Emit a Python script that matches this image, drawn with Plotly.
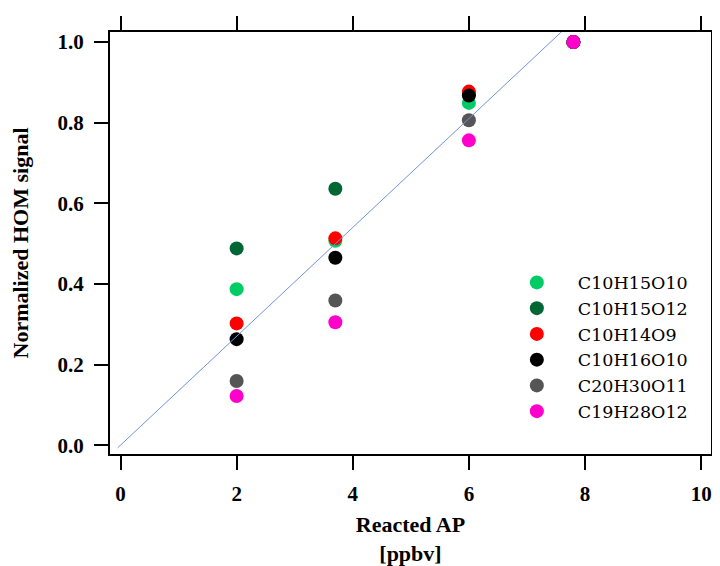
import plotly.graph_objects as go

# Data
reacted_ap = [2.0, 3.7, 6.0, 7.8]
series_names = ["C10H15O10", "C10H15O12", "C10H14O9", "C10H16O10", "C20H30O11", "C19H28O12"]
c10h15o10 = [0.387, 0.507, 0.849, 1.0]
c10h15o12 = [0.488, 0.636, 0.870, 1.0]
c10h14o9 = [0.302, 0.513, 0.877, 1.0]
c10h16o10 = [0.263, 0.465, 0.867, 1.0]
c20h30o11 = [0.159, 0.359, 0.806, 1.0]
c19h28o12 = [0.122, 0.305, 0.756, 1.0]
series_values = [c10h15o10, c10h15o12, c10h14o9, c10h16o10, c20h30o11, c19h28o12]
series_colors = ["#00cc66", "#006633", "#ff0000", "#000000", "#555555", "#ff00cc"]

fit_slope = 0.135
fit_x = [-0.05, 8.0]

x_ticks = [0, 2, 4, 6, 8, 10]
y_ticks = [0.0, 0.2, 0.4, 0.6, 0.8, 1.0]
y_ticklabels = ["0.0", "0.2", "0.4", "0.6", "0.8", "1.0"]

fig = go.Figure()
for name, vals, col in zip(series_names, series_values, series_colors):
    fig.add_trace(go.Scatter(
        x=reacted_ap, y=vals, mode="markers", name=name,
        marker=dict(color=col, size=14, line=dict(width=0)),
    ))

fig.add_trace(go.Scatter(
    x=fit_x, y=[fit_slope * v for v in fit_x], mode="lines",
    line=dict(color="#6f94d8", width=1), showlegend=False, hoverinfo="skip",
))

tick_font = dict(family="Liberation Serif", size=21, color="black", weight="bold")
title_font = dict(family="Liberation Serif", size=22, color="black", weight="bold")

fig.update_layout(
    width=712, height=558,
    margin=dict(l=102, r=9, t=24, b=112),
    paper_bgcolor="white", plot_bgcolor="white",
    showlegend=True,
    legend=dict(
        x=0.642, y=0.449, xanchor="left", yanchor="top",
        font=dict(family="DejaVu Serif", size=17.5, color="black"),
        bgcolor="rgba(0,0,0,0)", itemwidth=72, borderwidth=0,
    ),
    xaxis=dict(
        range=[-0.181, 10.17], tickvals=x_ticks, ticktext=[str(v) for v in x_ticks],
        showgrid=False, zeroline=False, showline=True, linecolor="black", linewidth=2,
        mirror="ticks", ticks="outside", ticklen=14, tickwidth=2, tickcolor="black",
        tickfont=tick_font, ticklabelstandoff=6, automargin=False,
        title=dict(text="Reacted AP<br>[ppbv]", font=title_font, standoff=13),
    ),
    yaxis=dict(
        range=[-0.0219, 1.0248], tickvals=y_ticks, ticktext=y_ticklabels,
        showgrid=False, zeroline=False, showline=True, linecolor="black", linewidth=2,
        mirror="ticks", ticks="outside", ticklen=14, tickwidth=2, tickcolor="black",
        tickfont=tick_font, ticklabelstandoff=6, automargin=False,
        title=dict(text="Normalized HOM signal", font=title_font, standoff=25),
    ),
)

fig.write_html("out.html")
